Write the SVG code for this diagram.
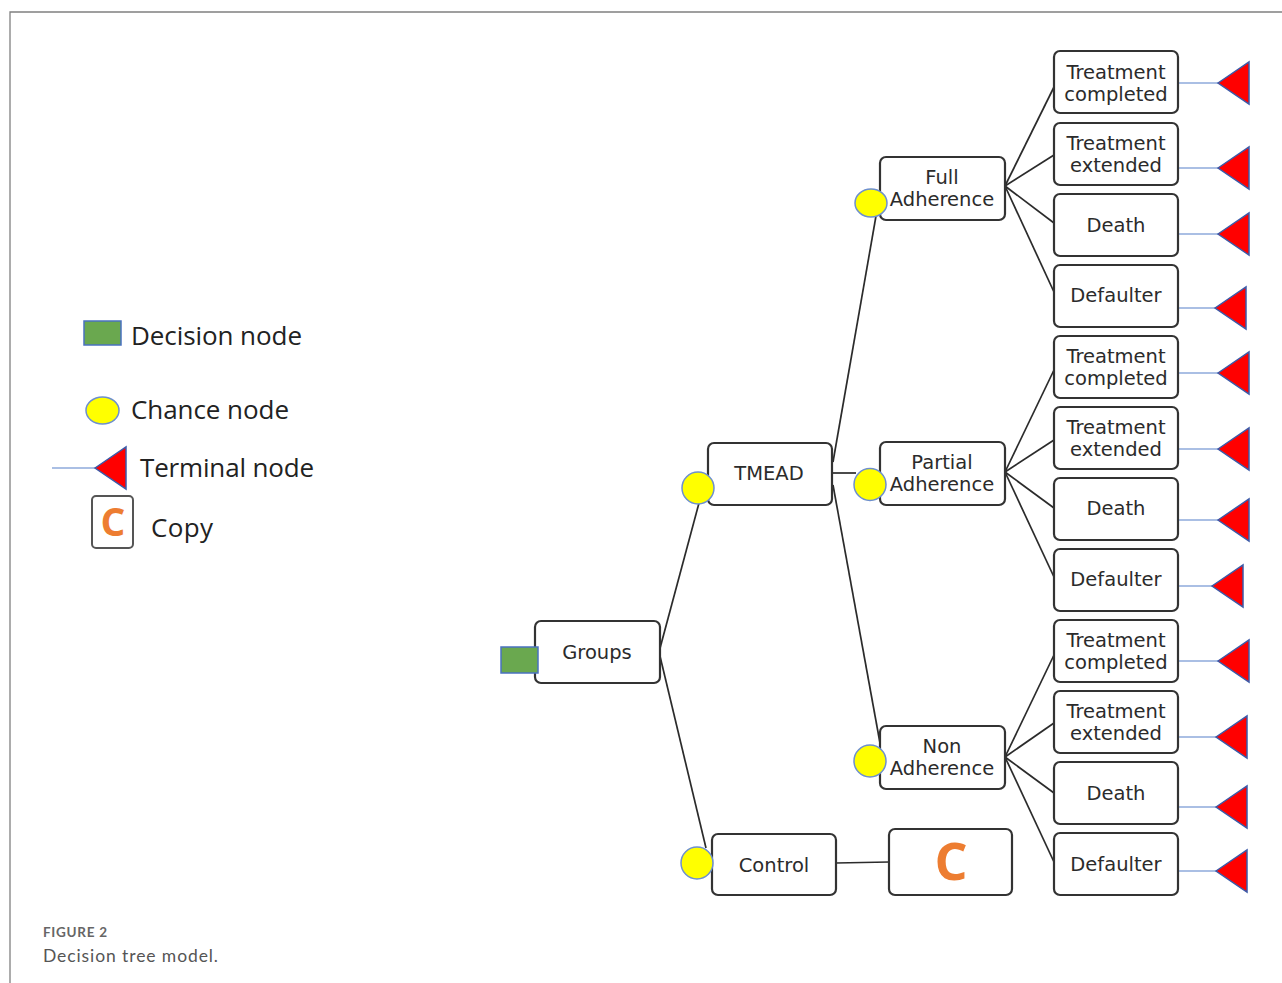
<svg xmlns="http://www.w3.org/2000/svg" xmlns:xlink="http://www.w3.org/1999/xlink" width="1282" height="983" viewBox="0 0 1282 983">
<style>
.box{fill:#fff;stroke:#333;stroke-width:2.2}
.t{font-family:"DejaVu Sans",Verdana,sans-serif;font-size:19.5px;fill:#2b2b2b;text-anchor:middle}
.lg{font-family:"Open Sans","DejaVu Sans",sans-serif;font-size:26px;fill:#222}
.con{stroke:#2b2b2b;stroke-width:1.7;fill:none}
.tl{stroke:#8eaadb;stroke-width:1.5;fill:none}
.ch{fill:#ffff00;stroke:#6d8fcf;stroke-width:1.5}
.tri{fill:#ff0000;stroke:#3b5aa8;stroke-width:1.5}
.dec{fill:#6aa84f;stroke:#4a72c0;stroke-width:1.5}
.cc{font-family:"Open Sans","DejaVu Sans",sans-serif;font-weight:bold;fill:#ed7d31;text-anchor:middle}
</style>
<defs>
<polygon id="tri" class="tri" points="0,0 31,-21 31,21"/>
</defs>
<rect width="1282" height="983" fill="#fff"/>
<path d="M10,983 V12 H1282" fill="none" stroke="#808080" stroke-width="1.3"/>

<!-- Legend -->
<g id="legend">
<rect class="dec" x="84" y="321" width="37" height="24"/>
<text class="lg" x="131" y="345" textLength="171">Decision node</text>
<ellipse class="ch" cx="102.5" cy="410.5" rx="16.5" ry="13.5"/>
<text class="lg" x="131" y="419" textLength="158">Chance node</text>
<line class="tl" x1="52" y1="468" x2="95" y2="468"/>
<use xlink:href="#tri" x="95" y="468"/>
<text class="lg" x="140" y="477" textLength="174">Terminal node</text>
<rect x="92" y="496" width="41" height="52" rx="4" fill="#fff" stroke="#555" stroke-width="2"/>
<text class="cc" x="113" y="536" font-size="39">C</text>
<text class="lg" x="151" y="537" textLength="62">Copy</text>
</g>

<!-- Connectors -->
<g id="connectors">
<line class="con" x1="659" y1="652" x2="699" y2="503"/>
<line class="con" x1="659" y1="652" x2="706" y2="848"/>
<line class="con" x1="836" y1="863" x2="889" y2="862"/>
<line class="con" x1="833" y1="462" x2="876" y2="216"/>
<line class="con" x1="832" y1="473" x2="856" y2="473"/>
<line class="con" x1="833" y1="485" x2="880" y2="743"/>
<!-- Full fan -->
<line class="con" x1="1005" y1="186" x2="1054" y2="87"/>
<line class="con" x1="1005" y1="186" x2="1054" y2="155"/>
<line class="con" x1="1005" y1="186" x2="1054" y2="223"/>
<line class="con" x1="1005" y1="186" x2="1054" y2="292"/>
<!-- Partial fan -->
<line class="con" x1="1005" y1="472" x2="1054" y2="370"/>
<line class="con" x1="1005" y1="472" x2="1054" y2="440"/>
<line class="con" x1="1005" y1="472" x2="1054" y2="508"/>
<line class="con" x1="1005" y1="472" x2="1054" y2="577"/>
<!-- Non fan -->
<line class="con" x1="1005" y1="757" x2="1054" y2="655"/>
<line class="con" x1="1005" y1="757" x2="1054" y2="723"/>
<line class="con" x1="1005" y1="757" x2="1054" y2="793"/>
<line class="con" x1="1005" y1="757" x2="1054" y2="862"/>
<!-- terminal lines -->
<line class="tl" x1="1178" y1="83" x2="1218" y2="83"/>
<line class="tl" x1="1178" y1="168" x2="1218" y2="168"/>
<line class="tl" x1="1178" y1="234" x2="1218" y2="234"/>
<line class="tl" x1="1178" y1="308" x2="1215" y2="308"/>
<line class="tl" x1="1178" y1="373" x2="1218" y2="373"/>
<line class="tl" x1="1178" y1="449" x2="1218" y2="449"/>
<line class="tl" x1="1178" y1="520" x2="1218" y2="520"/>
<line class="tl" x1="1175" y1="586" x2="1212" y2="586"/>
<line class="tl" x1="1178" y1="661" x2="1218" y2="661"/>
<line class="tl" x1="1178" y1="737" x2="1216" y2="737"/>
<line class="tl" x1="1178" y1="807" x2="1216" y2="807"/>
<line class="tl" x1="1178" y1="871" x2="1216" y2="871"/>
</g>

<!-- Root -->
<g id="groups">
<rect class="box" x="535" y="621" width="125" height="62" rx="6"/>
<text class="t" x="597" y="659">Groups</text>
<rect class="dec" x="501" y="647" width="37" height="26"/>
</g>
<g id="tmead">
<rect class="box" x="708" y="443" width="124" height="62" rx="6"/>
<text class="t" x="769" y="480">TMEAD</text>
<circle class="ch" cx="698" cy="488" r="16"/>
</g>
<g id="control">
<rect class="box" x="712" y="834" width="124" height="61" rx="6"/>
<text class="t" x="774" y="872">Control</text>
<circle class="ch" cx="697" cy="863" r="16"/>
</g>
<g id="copy">
<rect class="box" x="889" y="829" width="123" height="66" rx="6"/>
<text class="cc" x="951" y="880" font-size="52">C</text>
</g>
<g id="full">
<rect class="box" x="880" y="157" width="125" height="63" rx="6"/>
<text class="t" x="942" y="184">Full</text>
<text class="t" x="942" y="206">Adherence</text>
<ellipse class="ch" cx="871" cy="203" rx="16" ry="14"/>
</g>
<g id="partial">
<rect class="box" x="880" y="442" width="125" height="63" rx="6"/>
<text class="t" x="942" y="469">Partial</text>
<text class="t" x="942" y="491">Adherence</text>
<circle class="ch" cx="870" cy="484.5" r="16"/>
</g>
<g id="non">
<rect class="box" x="880" y="726" width="125" height="63" rx="6"/>
<text class="t" x="942" y="753">Non</text>
<text class="t" x="942" y="775">Adherence</text>
<circle class="ch" cx="870" cy="761" r="16"/>
</g>

<!-- Leaves: Full -->
<g id="f-tc"><rect class="box" x="1054" y="51" width="124" height="62" rx="6"/><text class="t" x="1116" y="79">Treatment</text><text class="t" x="1116" y="101">completed</text></g>
<g id="f-te"><rect class="box" x="1054" y="123" width="124" height="62" rx="6"/><text class="t" x="1116" y="150">Treatment</text><text class="t" x="1116" y="172">extended</text></g>
<g id="f-d"><rect class="box" x="1054" y="194" width="124" height="62" rx="6"/><text class="t" x="1116" y="232">Death</text></g>
<g id="f-df"><rect class="box" x="1054" y="265" width="124" height="62" rx="6"/><text class="t" x="1116" y="302">Defaulter</text></g>
<!-- Leaves: Partial -->
<g id="p-tc"><rect class="box" x="1054" y="336" width="124" height="62" rx="6"/><text class="t" x="1116" y="363">Treatment</text><text class="t" x="1116" y="385">completed</text></g>
<g id="p-te"><rect class="box" x="1054" y="407" width="124" height="62" rx="6"/><text class="t" x="1116" y="434">Treatment</text><text class="t" x="1116" y="456">extended</text></g>
<g id="p-d"><rect class="box" x="1054" y="478" width="124" height="62" rx="6"/><text class="t" x="1116" y="515">Death</text></g>
<g id="p-df"><rect class="box" x="1054" y="549" width="124" height="62" rx="6"/><text class="t" x="1116" y="586">Defaulter</text></g>
<!-- Leaves: Non -->
<g id="n-tc"><rect class="box" x="1054" y="620" width="124" height="62" rx="6"/><text class="t" x="1116" y="647">Treatment</text><text class="t" x="1116" y="669">completed</text></g>
<g id="n-te"><rect class="box" x="1054" y="691" width="124" height="62" rx="6"/><text class="t" x="1116" y="718">Treatment</text><text class="t" x="1116" y="740">extended</text></g>
<g id="n-d"><rect class="box" x="1054" y="762" width="124" height="62" rx="6"/><text class="t" x="1116" y="800">Death</text></g>
<g id="n-df"><rect class="box" x="1054" y="833" width="124" height="62" rx="6"/><text class="t" x="1116" y="871">Defaulter</text></g>

<!-- Terminal nodes -->
<g id="term1"><use xlink:href="#tri" x="1218" y="83"/></g>
<g id="term2"><use xlink:href="#tri" x="1218" y="168"/></g>
<g id="term3"><use xlink:href="#tri" x="1218" y="234"/></g>
<g id="term4"><use xlink:href="#tri" x="1215" y="308"/></g>
<g id="term5"><use xlink:href="#tri" x="1218" y="373"/></g>
<g id="term6"><use xlink:href="#tri" x="1218" y="449"/></g>
<g id="term7"><use xlink:href="#tri" x="1218" y="520"/></g>
<g id="term8"><use xlink:href="#tri" x="1212" y="586"/></g>
<g id="term9"><use xlink:href="#tri" x="1218" y="661"/></g>
<g id="term10"><use xlink:href="#tri" x="1216" y="737"/></g>
<g id="term11"><use xlink:href="#tri" x="1216" y="807"/></g>
<g id="term12"><use xlink:href="#tri" x="1216" y="871"/></g>

<!-- Caption -->
<text x="43" y="937" font-family="Lato,'Open Sans',sans-serif" font-weight="bold" font-size="13.5" fill="#666" textLength="64">FIGURE 2</text>
<text x="43" y="962" font-family="Lato,'Open Sans',sans-serif" font-size="17.5" fill="#555" textLength="175">Decision tree model.</text>
</svg>
